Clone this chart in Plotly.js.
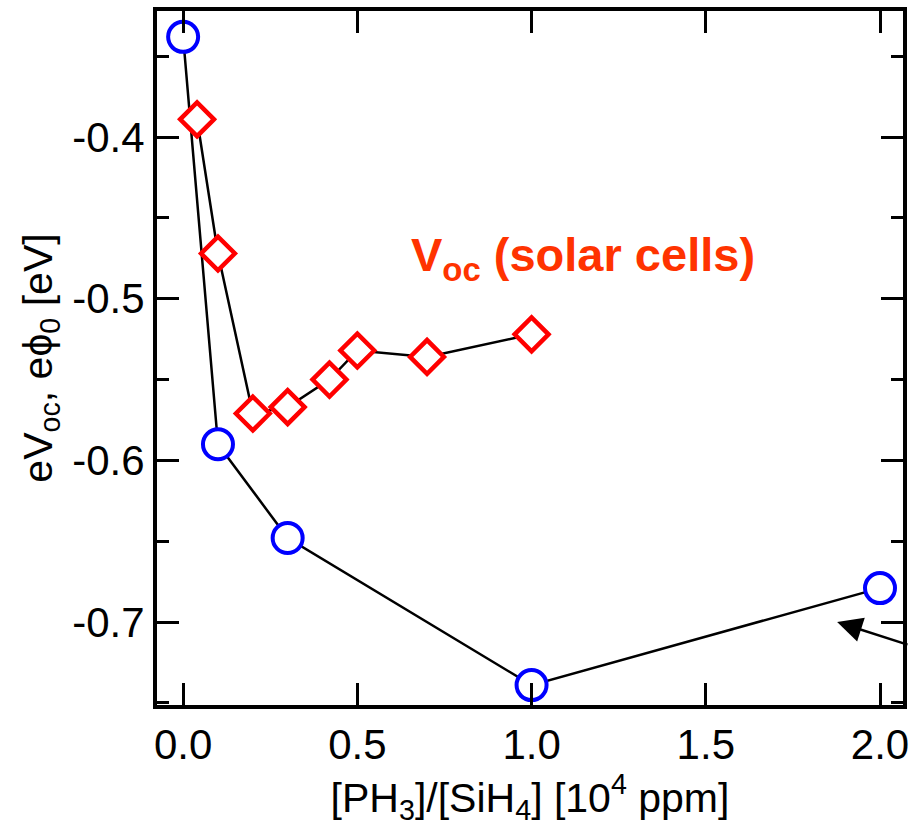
<!DOCTYPE html>
<html>
<head>
<meta charset="utf-8">
<script src="https://cdn.plot.ly/plotly-3.0.1.min.js"></script>
<style>html,body{margin:0;padding:0;background:#fff;}#chart{width:909px;height:835px;}</style>
</head>
<body>
<div id="chart"></div>
<script>
// Work function e*phi0 (blue circles)
const phiX = [0, 0.1, 0.3, 1.0, 2.0];
const phiY = [-0.338, -0.590, -0.648, -0.739, -0.679];
// Voc of solar cells (red diamonds)
const vocX = [0.04, 0.1, 0.2, 0.3, 0.42, 0.5, 0.7, 1.0];
const vocY = [-0.389, -0.472, -0.571, -0.567, -0.550, -0.532, -0.536, -0.522];
// Tick labels
const xTickVals = [0, 0.5, 1.0, 1.5, 2.0];
const xTickText = ['0.0', '0.5', '1.0', '1.5', '2.0'];
const yTickVals = [-0.7, -0.6, -0.5, -0.4];
const yTickText = ['-0.7', '-0.6', '-0.5', '-0.4'];

const font = 'Liberation Sans, Arial, sans-serif';

const traces = [
  {
    x: phiX, y: phiY, type: 'scatter', mode: 'lines+markers',
    line: {color: '#000', width: 2.5},
    marker: {symbol: 'circle', size: 30, color: '#fff', line: {color: '#0000ff', width: 4}},
    cliponaxis: false, showlegend: false
  },
  {
    x: vocX, y: vocY, type: 'scatter', mode: 'lines+markers',
    line: {color: '#000', width: 2.5},
    marker: {symbol: 'diamond', size: 26, color: '#fff', line: {color: '#ff0000', width: 4.5}},
    cliponaxis: false, showlegend: false
  }
];

const axisCommon = {
  showgrid: false, zeroline: false, showline: true, linecolor: '#000', linewidth: 4,
  mirror: 'ticks', ticks: 'inside', ticklen: 22, tickwidth: 3, tickcolor: '#000',
  tickfont: {family: font, size: 42, color: '#000'}
};

const layout = {
  width: 909, height: 835,
  margin: {l: 157, r: 6, t: 11, b: 130},
  paper_bgcolor: '#fff', plot_bgcolor: '#fff',
  xaxis: Object.assign({}, axisCommon, {
    range: [-0.075, 2.066],
    tickmode: 'array', tickvals: xTickVals, ticktext: xTickText,
    ticklabeloverflow: 'allow',
    title: {text: '[PH<sub>3</sub>]/[SiH<sub>4</sub>] [10<sup>4</sup> ppm]', font: {family: font, size: 41, color: '#000'}, standoff: 6}
  }),
  yaxis: Object.assign({}, axisCommon, {
    range: [-0.7513, -0.322],
    tickmode: 'array', tickvals: yTickVals, ticktext: yTickText,
    minor: {dtick: 0.05, ticks: 'inside', ticklen: 12, tickwidth: 3, tickcolor: '#000', showgrid: false},
    title: {text: 'eV<sub>oc</sub>, eϕ<sub>0</sub> [eV]', font: {family: font, size: 41, color: '#000'}, standoff: 8}
  }),
  annotations: [
    {
      x: 1.148, y: -0.475, xref: 'x', yref: 'y',
      text: '<b>V<sub>oc</sub> (solar cells)</b>', showarrow: false,
      font: {family: font, size: 47, color: '#ff3300'}
    },
    {
      x: 1.877, y: -0.700, xref: 'x', yref: 'y',
      ax: 80, ay: 23, text: '', showarrow: true,
      arrowhead: 2, arrowsize: 2, arrowwidth: 2.5, arrowcolor: '#000'
    }
  ]
};

Plotly.newPlot('chart', traces, layout, {displayModeBar: false, staticPlot: true});
</script>
</body>
</html>
